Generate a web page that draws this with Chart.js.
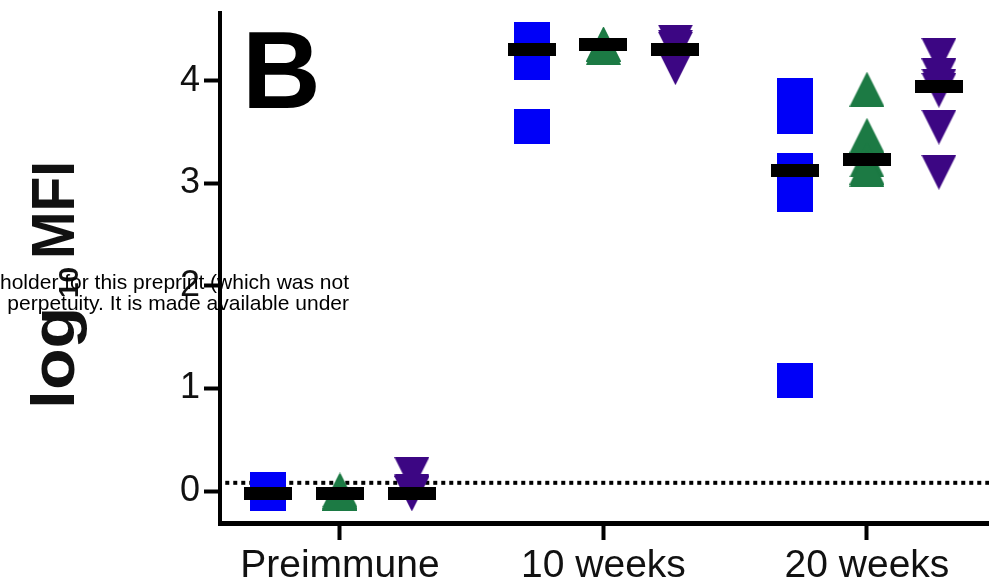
<!DOCTYPE html>
<html>
<head>
<meta charset="utf-8">
<script src="https://cdn.jsdelivr.net/npm/chart.js@4/dist/chart.umd.min.js"></script>
<style>
  html, body { margin: 0; padding: 0; background: #fff; }
  #myChart { display: block; }
</style>
</head>
<body>
<canvas id="myChart" width="989" height="588"></canvas>
<script>
// categories and tick labels
var groups = ['Preimmune', '10 weeks', '20 weeks'];
var yTicks = [0, 1, 2, 3, 4];

// individual log10 MFI values, one list per time point
var blueSquares = [
    [0.01, 0, -0.01, -0.02, -0.02],
    [4.40, 4.33, 4.31, 4.18, 3.56],
    [3.86, 3.75, 3.65, 3.13, 3.03, 2.89, 1.08]
];
var greenTriangles = [
    [0.01, 0, -0.02, -0.02, -0.02],
    [4.36, 4.36, 4.33],
    [3.92, 3.47, 3.23, 3.16, 3.14]
];
var purpleTriangles = [
    [0.16, 0, -0.01, -0.02, -0.02],
    [4.38, 4.33, 4.31, 4.13],
    [4.25, 4.05, 3.95, 3.91, 3.55, 3.11]
];

// medians (black bars)
var blueMedian = [-0.02, 4.31, 3.13];
var greenMedian = [-0.02, 4.36, 3.23];
var purpleMedian = [-0.02, 4.31, 3.95];

// dotted cut-off line
var cutoff = 0.08;

var X_MIN = -0.455, X_MAX = 2.463;
var Y_MIN = -0.312, Y_MAX = 4.663;
var SHIFT = 0.273;
var FONT = "'Liberation Sans', Arial, Helvetica, sans-serif";

function marker(shape, color, w, h) {
    var c = document.createElement('canvas');
    c.width = w;
    c.height = h;
    var g = c.getContext('2d');
    g.fillStyle = color;
    g.beginPath();
    if (shape === 'up') {
        g.moveTo(w / 2, 0); g.lineTo(w, h); g.lineTo(0, h);
    } else if (shape === 'down') {
        g.moveTo(0, 0); g.lineTo(w, 0); g.lineTo(w / 2, h);
    } else {
        g.rect(0, 0, w, h);
    }
    g.closePath();
    g.fill();
    return c;
}

function points(lists, shift) {
    var out = [];
    for (var i = 0; i < lists.length; i++) {
        for (var j = 0; j < lists[i].length; j++) {
            out.push({ x: i + shift, y: lists[i][j] });
        }
    }
    return out;
}

function medianPoints(list, shift) {
    return list.map(function(v, i) { return { x: i + shift, y: v }; });
}

var bar = marker('rect', '#000', 48, 13);

function dots(label, data, style, order) {
    return {
        type: 'scatter',
        label: label,
        data: data,
        pointStyle: style,
        pointRadius: 18,
        pointHoverRadius: 18,
        order: order,
        clip: false
    };
}

var datasets = [
    dots('blue median', medianPoints(blueMedian, -SHIFT), bar, 0),
    dots('green median', medianPoints(greenMedian, 0), bar, 0),
    dots('purple median', medianPoints(purpleMedian, SHIFT), bar, 0),
    dots('blue', points(blueSquares, -SHIFT), marker('rect', '#0000f8', 36, 35), 1),
    dots('green', points(greenTriangles, 0), marker('up', '#1c7a44', 35, 35), 1),
    dots('purple', points(purpleTriangles, SHIFT), marker('down', '#3c0683', 35, 35), 1),
    {
        type: 'line',
        label: 'cutoff',
        data: [{ x: X_MIN + 0.02, y: cutoff }, { x: X_MAX, y: cutoff }],
        borderColor: '#000',
        borderWidth: 4,
        borderDash: [4, 4],
        pointRadius: 0,
        order: 3
    }
];

var textPlugin = {
    id: 'texts',
    afterDraw: function(chart) {
        var ctx = chart.ctx;
        ctx.save();
        ctx.fillStyle = '#000';
        ctx.textBaseline = 'alphabetic';

        // panel letter
        ctx.font = 'bold 109px ' + FONT;
        ctx.textAlign = 'left';
        ctx.fillText('B', 242, 108);

        // y axis title, log with subscript 10
        ctx.save();
        ctx.translate(74, 409);
        ctx.rotate(-Math.PI / 2);
        ctx.fillStyle = '#111';
        ctx.font = 'bold 62px ' + FONT;
        ctx.save();
        ctx.scale(1.1, 1);
        ctx.fillText('log', 0, 0);
        ctx.restore();
        ctx.font = 'bold 28px ' + FONT;
        ctx.fillText('10', 111, 4);
        ctx.font = 'bold 62px ' + FONT;
        ctx.save();
        ctx.translate(150, 0);
        ctx.scale(0.92, 1);
        ctx.fillText('MFI', 0, 0);
        ctx.restore();
        ctx.restore();

        // preprint notice overlay
        ctx.font = '21px ' + FONT;
        ctx.textAlign = 'right';
        ctx.fillText('holder for this preprint (which was not', 349, 289);
        ctx.fillText('perpetuity. It is made available under', 349, 310);
        ctx.restore();
    }
};

var ctx = document.getElementById('myChart').getContext('2d');
var myChart = new Chart(ctx, {
    type: 'scatter',
    data: { datasets: datasets },
    options: {
        responsive: false,
        animation: false,
        devicePixelRatio: 1,
        layout: { autoPadding: false, padding: { left: 0, right: 0, top: 13, bottom: 0 } },
        plugins: {
            legend: { display: false },
            tooltip: { enabled: false }
        },
        scales: {
            x: {
                type: 'linear',
                min: X_MIN,
                max: X_MAX,
                afterBuildTicks: function(s) {
                    s.ticks = groups.map(function(g, i) { return { value: i }; });
                },
                afterFit: function(s) {
                    s.height = 65;
                    s.paddingLeft = 0;
                    s.paddingRight = 0;
                },
                ticks: {
                    callback: function(v) { return groups[v]; },
                    font: { family: FONT, size: 39 },
                    color: '#111',
                    padding: 3,
                    autoSkip: false,
                    maxRotation: 0
                },
                grid: {
                    drawOnChartArea: false,
                    drawTicks: true,
                    tickLength: 17,
                    tickWidth: 4,
                    tickColor: '#000'
                },
                border: { display: true, color: '#000', width: 5 }
            },
            y: {
                min: Y_MIN,
                max: Y_MAX,
                afterBuildTicks: function(s) {
                    s.ticks = yTicks.map(function(v) { return { value: v }; });
                },
                afterFit: function(s) {
                    s.width = 220;
                    s.paddingTop = 0;
                    s.paddingBottom = 0;
                },
                ticks: {
                    font: { family: FONT, size: 36 },
                    color: '#111',
                    padding: 4
                },
                grid: {
                    drawOnChartArea: false,
                    drawTicks: true,
                    tickLength: 16,
                    tickWidth: 4,
                    tickColor: '#000'
                },
                border: { display: true, color: '#000', width: 4 }
            }
        }
    },
    plugins: [textPlugin]
});
</script>
</body>
</html>
